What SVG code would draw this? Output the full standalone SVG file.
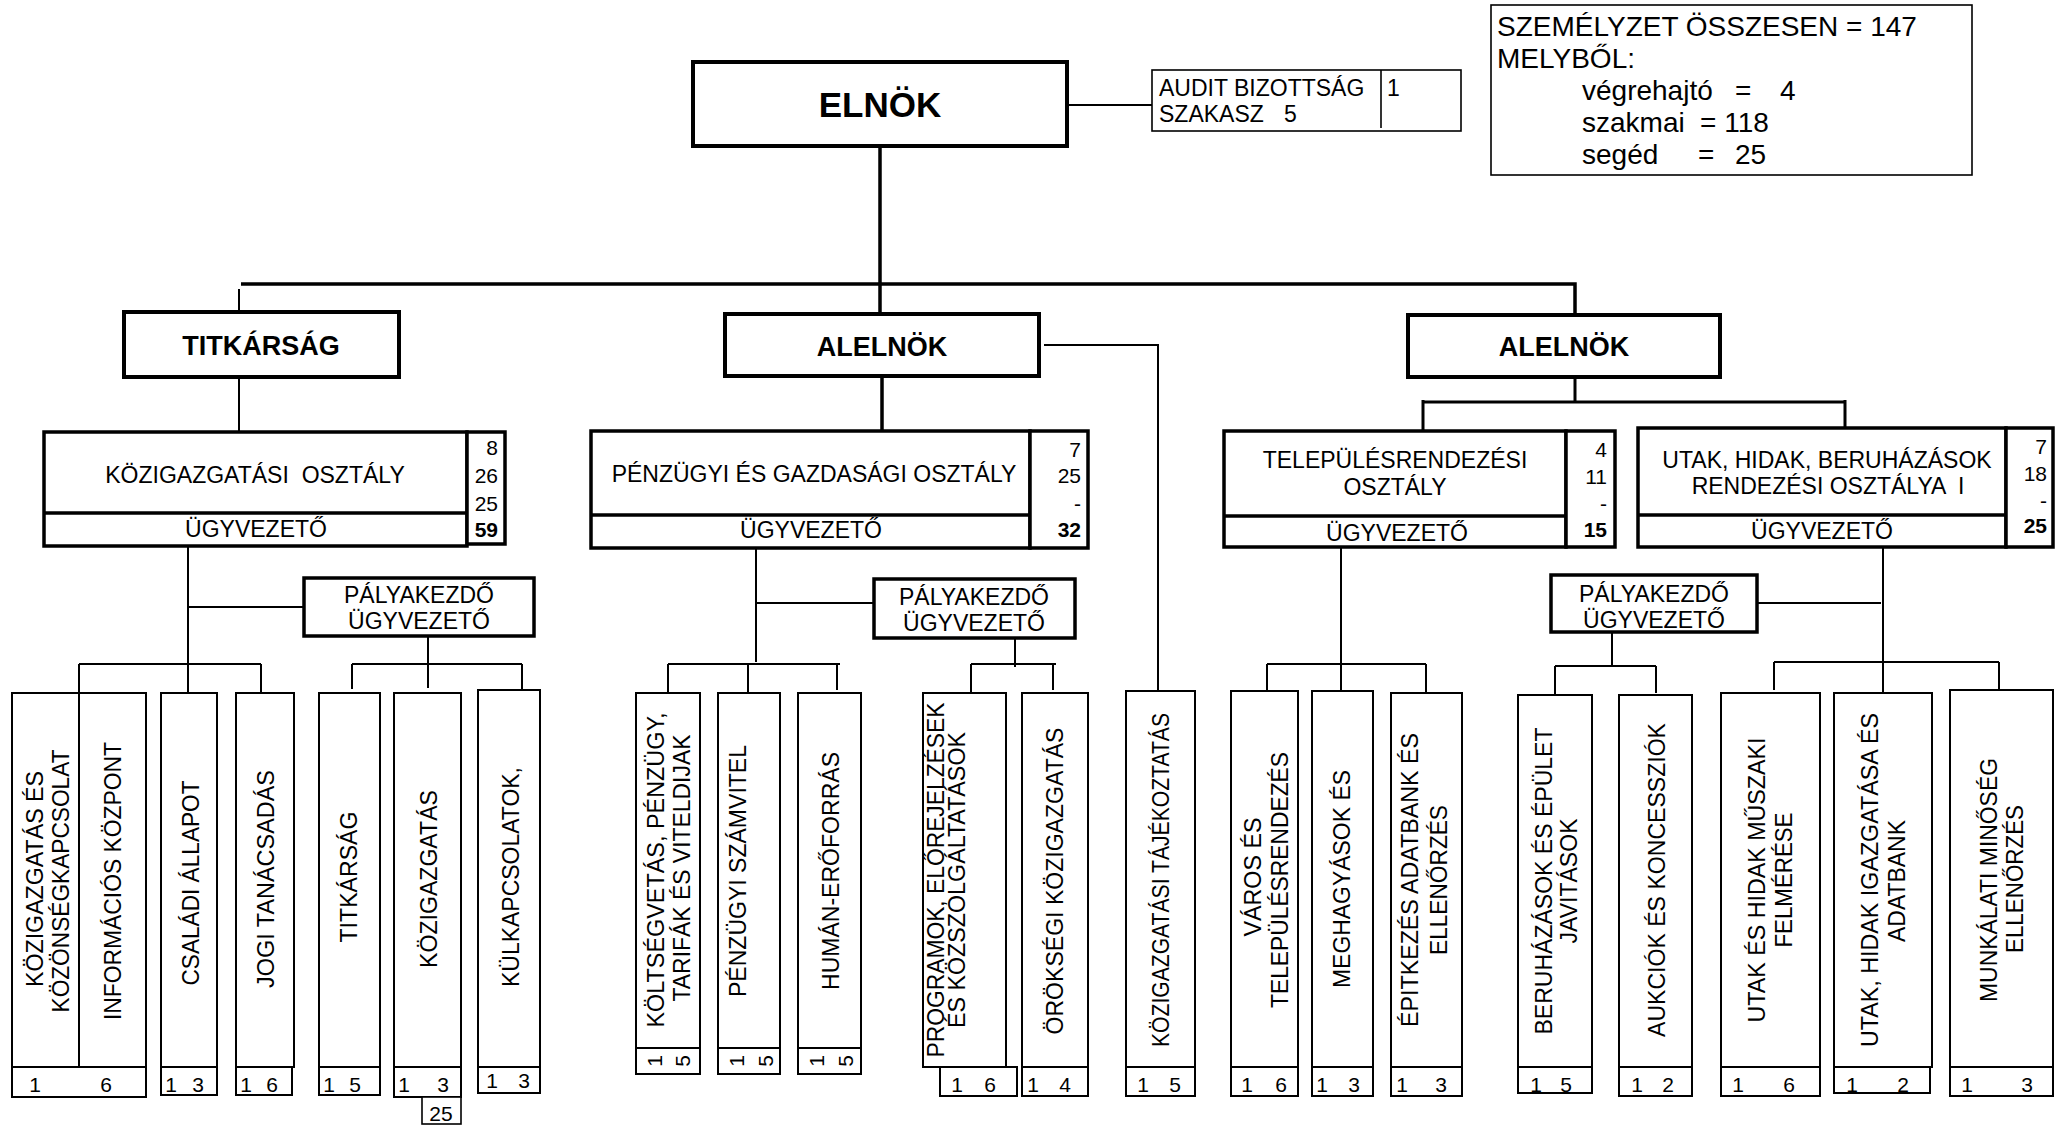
<svg xmlns="http://www.w3.org/2000/svg" width="2065" height="1125" viewBox="0 0 2065 1125">
<style>
text{font-family:"Liberation Sans",Arial,sans-serif;fill:#000}
.b{font-weight:bold}
.f23{font-size:23px}
.f21{font-size:21px}
.f28{font-size:28px}
.m{text-anchor:middle}
.e{text-anchor:end}
.box4{fill:#fff;stroke:#000;stroke-width:4}
.box3{fill:#fff;stroke:#000;stroke-width:3.5}
.box2{fill:#fff;stroke:#000;stroke-width:2}
.box15{fill:#fff;stroke:#000;stroke-width:1.6}
.c4{stroke:#000;stroke-width:3.5;fill:none}
.c3{stroke:#000;stroke-width:3;fill:none}
.c2{stroke:#000;stroke-width:2;fill:none}
.l2{stroke:#000;stroke-width:2}
.l3{stroke:#000;stroke-width:3.5}
</style>
<rect width="2065" height="1125" fill="#fff"/>

<g id="connectors">
<path class="c4" d="M241 284H1575V315M880 146V314M882 376V431"/>
<path class="c2" d="M239 289V312M239 377V432M1067 105H1152M1044 345H1158V691"/>
<path class="c3" d="M1575 377V402M1423 402H1845M1423 400V431M1845 400V428"/>
<path class="c2" d="M188 546V694M188 607H304M428 636V688M79 664H261M79 664V693M261 664V693M352 664H522M352 664V689M522 664V690"/>
<path class="c2" d="M756 549V662M756 603H874M1015 638V667M668 664H840M668 664V696M748 664V693M837 664V690M971 664H1056M971 664V692M1053 664V690"/>
<path class="c2" d="M1341 547V692M1267 664H1426M1267 664V692M1426 664V694"/>
<path class="c2" d="M1883 547V693M1757 603H1881M1612 632V666M1555 666H1656M1555 666V695M1656 666V693M1774 662H1999M1774 662V690M1999 662V690"/>
</g>

<g id="elnok">
<rect class="box4" x="693" y="62" width="374" height="84"/>
<text class="b m" x="880" y="117" font-size="35">ELNÖK</text>
</g>

<g id="audit">
<rect class="box15" x="1152" y="70" width="309" height="61"/>
<line stroke="#000" stroke-width="1.6" x1="1381" y1="70" x2="1381" y2="128"/>
<text class="f23" x="1159" y="96">AUDIT BIZOTTSÁG</text>
<text class="f23" x="1159" y="122">SZAKASZ<tspan x="1284">5</tspan></text>
<text class="f23" x="1387" y="96">1</text>
</g>

<g id="osszesen">
<rect class="box15" x="1491" y="5" width="481" height="170"/>
<text class="f28" x="1497" y="36">SZEMÉLYZET ÖSSZESEN = 147</text>
<text class="f28" x="1497" y="68">MELYBŐL:</text>
<text class="f28" x="1582" y="100">végrehajtó<tspan x="1735">=</tspan><tspan x="1780">4</tspan></text>
<text class="f28" x="1582" y="132">szakmai<tspan x="1700">= 118</tspan></text>
<text class="f28" x="1582" y="164">segéd<tspan x="1698">=</tspan><tspan x="1735">25</tspan></text>
</g>

<g id="titkarsag">
<rect class="box4" x="124" y="312" width="275" height="65"/>
<text class="b m" x="261" y="355" font-size="27">TITKÁRSÁG</text>
</g>

<g id="alelnok1">
<rect class="box4" x="725" y="314" width="314" height="62"/>
<text class="b m" x="882" y="356" font-size="27">ALELNÖK</text>
</g>

<g id="alelnok2">
<rect class="box4" x="1408" y="315" width="312" height="62"/>
<text class="b m" x="1564" y="356" font-size="27">ALELNÖK</text>
</g>

<g id="kozig-osztaly">
<rect class="box3" x="44" y="432" width="423" height="114"/>
<line class="l3" x1="44" y1="513" x2="467" y2="513"/>
<rect class="box3" x="467" y="432" width="38" height="112"/>
<text class="f23 m" x="255" y="483" xml:space="preserve">KÖZIGAZGATÁSI  OSZTÁLY</text>
<text class="f23 m" x="256" y="537">ÜGYVEZETŐ</text>
<text class="f21 e" x="498" y="455">8</text>
<text class="f21 e" x="498" y="483">26</text>
<text class="f21 e" x="498" y="511">25</text>
<text class="f21 e b" x="498" y="537">59</text>
</g>

<g id="penzugyi-osztaly">
<rect class="box3" x="591" y="431" width="439" height="117"/>
<line class="l3" x1="591" y1="515" x2="1030" y2="515"/>
<rect class="box3" x="1030" y="431" width="58" height="117"/>
<text class="f23 m" x="814" y="482">PÉNZÜGYI ÉS GAZDASÁGI OSZTÁLY</text>
<text class="f23 m" x="811" y="538">ÜGYVEZETŐ</text>
<text class="f21 e" x="1081" y="457">7</text>
<text class="f21 e" x="1081" y="483">25</text>
<text class="f21 e" x="1081" y="511">-</text>
<text class="f21 e b" x="1081" y="537">32</text>
</g>

<g id="telepules-osztaly">
<rect class="box3" x="1224" y="431" width="342" height="116"/>
<line class="l3" x1="1224" y1="516" x2="1566" y2="516"/>
<rect class="box3" x="1566" y="431" width="49" height="116"/>
<text class="f23 m" x="1395" y="468">TELEPÜLÉSRENDEZÉSI</text>
<text class="f23 m" x="1395" y="495">OSZTÁLY</text>
<text class="f23 m" x="1397" y="541">ÜGYVEZETŐ</text>
<text class="f21 e" x="1607" y="457">4</text>
<text class="f21 e" x="1607" y="484">11</text>
<text class="f21 e" x="1607" y="511">-</text>
<text class="f21 e b" x="1607" y="537">15</text>
</g>

<g id="utak-osztaly">
<rect class="box3" x="1638" y="428" width="368" height="119"/>
<line class="l3" x1="1638" y1="515" x2="2006" y2="515"/>
<rect class="box3" x="2006" y="428" width="47" height="119"/>
<text class="f23 m" x="1827" y="468">UTAK, HIDAK, BERUHÁZÁSOK</text>
<text class="f23 m" x="1828" y="494" xml:space="preserve">RENDEZÉSI OSZTÁLYA  I</text>
<text class="f23 m" x="1822" y="539">ÜGYVEZETŐ</text>
<text class="f21 e" x="2047" y="454">7</text>
<text class="f21 e" x="2047" y="481">18</text>
<text class="f21 e" x="2047" y="508">-</text>
<text class="f21 e b" x="2047" y="533">25</text>
</g>

<g id="palyakezdo1">
<rect class="box3" x="304" y="578" width="230" height="58"/>
<text class="f23 m" x="419" y="603">PÁLYAKEZDŐ</text>
<text class="f23 m" x="419" y="629">ÜGYVEZETŐ</text>
</g>
<g id="palyakezdo2">
<rect class="box3" x="874" y="579" width="201" height="59"/>
<text class="f23 m" x="974" y="605">PÁLYAKEZDŐ</text>
<text class="f23 m" x="974" y="631">ÜGYVEZETŐ</text>
</g>
<g id="palyakezdo3">
<rect class="box3" x="1551" y="575" width="206" height="57"/>
<text class="f23 m" x="1654" y="602">PÁLYAKEZDŐ</text>
<text class="f23 m" x="1654" y="628">ÜGYVEZETŐ</text>
</g>

<g id="leaf-kozig-kozonseg">
<rect class="box2" x="12" y="693" width="134" height="404"/>
<line class="l2" x1="12" y1="1067" x2="146" y2="1067"/>
<line class="l2" x1="79" y1="693" x2="79" y2="1067"/>
<text class="f23 m" transform="translate(43,879) rotate(-90)" textLength="216" lengthAdjust="spacingAndGlyphs">KÖZIGAZGATÁS ÉS</text>
<text class="f23 m" transform="translate(69,881) rotate(-90)" textLength="263" lengthAdjust="spacingAndGlyphs">KÖZÖNSÉGKAPCSOLAT</text>
<text class="f23 m" transform="translate(121,881) rotate(-90)" textLength="278" lengthAdjust="spacingAndGlyphs">INFORMÁCIÓS KÖZPONT</text>
<text class="f21 m" x="35" y="1092">1</text>
<text class="f21 m" x="106" y="1092">6</text>
</g>

<g id="leaf-csaladi">
<rect class="box2" x="161" y="693" width="56" height="402"/>
<line class="l2" x1="161" y1="1067" x2="217" y2="1067"/>
<text class="f23 m" transform="translate(199,883) rotate(-90)" textLength="205" lengthAdjust="spacingAndGlyphs">CSALÁDI ÁLLAPOT</text>
<text class="f21 m" x="171" y="1092">1</text>
<text class="f21 m" x="198" y="1092">3</text>
</g>

<g id="leaf-jogi">
<rect class="box2" x="236" y="693" width="58" height="374"/>
<rect class="box2" x="236" y="1067" width="56" height="28"/>
<text class="f23 m" transform="translate(274,879) rotate(-90)" textLength="218" lengthAdjust="spacingAndGlyphs">JOGI TANÁCSADÁS</text>
<text class="f21 m" x="246" y="1092">1</text>
<text class="f21 m" x="272" y="1092">6</text>
</g>

<g id="leaf-titkarsag">
<rect class="box2" x="319" y="693" width="61" height="402"/>
<line class="l2" x1="319" y1="1067" x2="380" y2="1067"/>
<text class="f23 m" transform="translate(357,877) rotate(-90)" textLength="131" lengthAdjust="spacingAndGlyphs">TITKÁRSÁG</text>
<text class="f21 m" x="329" y="1092">1</text>
<text class="f21 m" x="355" y="1092">5</text>
</g>

<g id="leaf-kozigazgatas">
<rect class="box2" x="394" y="693" width="67" height="404"/>
<line class="l2" x1="394" y1="1067" x2="461" y2="1067"/>
<rect class="box15" x="422" y="1097" width="39" height="27"/>
<text class="f23 m" transform="translate(437,879) rotate(-90)" textLength="178" lengthAdjust="spacingAndGlyphs">KÖZIGAZGATÁS</text>
<text class="f21 m" x="404" y="1092">1</text>
<text class="f21 m" x="443" y="1092">3</text>
<text class="f21 m" x="441" y="1121">25</text>
</g>

<g id="leaf-kulkapcsolatok">
<rect class="box2" x="478" y="690" width="62" height="403"/>
<line class="l2" x1="478" y1="1067" x2="540" y2="1067"/>
<text class="f23 m" transform="translate(519,877) rotate(-90)" textLength="220" lengthAdjust="spacingAndGlyphs">KÜLKAPCSOLATOK,</text>
<text class="f21 m" x="492" y="1088">1</text>
<text class="f21 m" x="524" y="1088">3</text>
</g>

<g id="leaf-koltsegvetes">
<rect class="box2" x="636" y="693" width="64" height="381"/>
<line class="l2" x1="636" y1="1048" x2="700" y2="1048"/>
<text class="f23 m" transform="translate(664,870) rotate(-90)" textLength="315" lengthAdjust="spacingAndGlyphs">KÖLTSÉGVETÁS, PÉNZÜGY,</text>
<text class="f23 m" transform="translate(690,868) rotate(-90)" textLength="267" lengthAdjust="spacingAndGlyphs">TARIFÁK ÉS VITELDIJAK</text>
<text class="f21 m" transform="translate(662,1061) rotate(-90)">1</text>
<text class="f21 m" transform="translate(690,1061) rotate(-90)">5</text>
</g>

<g id="leaf-szamvitel">
<rect class="box2" x="718" y="693" width="62" height="381"/>
<line class="l2" x1="718" y1="1048" x2="780" y2="1048"/>
<text class="f23 m" transform="translate(746,871) rotate(-90)" textLength="252" lengthAdjust="spacingAndGlyphs">PÉNZÜGYI SZÁMVITEL</text>
<text class="f21 m" transform="translate(744,1061) rotate(-90)">1</text>
<text class="f21 m" transform="translate(773,1061) rotate(-90)">5</text>
</g>

<g id="leaf-human">
<rect class="box2" x="798" y="693" width="63" height="381"/>
<line class="l2" x1="798" y1="1048" x2="861" y2="1048"/>
<text class="f23 m" transform="translate(839,871) rotate(-90)" textLength="238" lengthAdjust="spacingAndGlyphs">HUMÁN-ERŐFORRÁS</text>
<text class="f21 m" transform="translate(824,1061) rotate(-90)">1</text>
<text class="f21 m" transform="translate(853,1061) rotate(-90)">5</text>
</g>

<g id="leaf-programok">
<rect class="box2" x="923" y="693" width="83" height="374"/>
<rect class="box2" x="940" y="1067" width="77" height="29"/>
<text class="f23 m" transform="translate(944,880) rotate(-90)" textLength="355" lengthAdjust="spacingAndGlyphs">PROGRAMOK, ELŐREJELZÉSEK</text>
<text class="f23 m" transform="translate(965,880) rotate(-90)" textLength="296" lengthAdjust="spacingAndGlyphs">ÉS KÖZSZOLGÁLTATÁSOK</text>
<text class="f21 m" x="957" y="1092">1</text>
<text class="f21 m" x="990" y="1092">6</text>
</g>

<g id="leaf-oroksegi">
<rect class="box2" x="1022" y="693" width="66" height="403"/>
<line class="l2" x1="1022" y1="1067" x2="1088" y2="1067"/>
<text class="f23 m" transform="translate(1063,881) rotate(-90)" textLength="307" lengthAdjust="spacingAndGlyphs">ÖRÖKSÉGI KÖZIGAZGATÁS</text>
<text class="f21 m" x="1033" y="1092">1</text>
<text class="f21 m" x="1065" y="1092">4</text>
</g>

<g id="leaf-tajekoztatas">
<rect class="box2" x="1126" y="691" width="69" height="405"/>
<line class="l2" x1="1126" y1="1067" x2="1195" y2="1067"/>
<text class="f23 m" transform="translate(1169,880) rotate(-90)" textLength="334" lengthAdjust="spacingAndGlyphs">KÖZIGAZGATÁSI TÁJÉKOZTATÁS</text>
<text class="f21 m" x="1143" y="1092">1</text>
<text class="f21 m" x="1175" y="1092">5</text>
</g>

<g id="leaf-varos">
<rect class="box2" x="1231" y="691" width="67" height="405"/>
<line class="l2" x1="1231" y1="1067" x2="1298" y2="1067"/>
<text class="f23 m" transform="translate(1261,877) rotate(-90)" textLength="119" lengthAdjust="spacingAndGlyphs">VÁROS ÉS</text>
<text class="f23 m" transform="translate(1288,880) rotate(-90)" textLength="256" lengthAdjust="spacingAndGlyphs">TELEPÜLÉSRENDEZÉS</text>
<text class="f21 m" x="1247" y="1092">1</text>
<text class="f21 m" x="1281" y="1092">6</text>
</g>

<g id="leaf-meghagyasok">
<rect class="box2" x="1312" y="691" width="61" height="405"/>
<line class="l2" x1="1312" y1="1067" x2="1373" y2="1067"/>
<text class="f23 m" transform="translate(1350,879) rotate(-90)" textLength="218" lengthAdjust="spacingAndGlyphs">MEGHAGYÁSOK ÉS</text>
<text class="f21 m" x="1322" y="1092">1</text>
<text class="f21 m" x="1354" y="1092">3</text>
</g>

<g id="leaf-epitkezes">
<rect class="box2" x="1391" y="693" width="71" height="403"/>
<line class="l2" x1="1391" y1="1067" x2="1462" y2="1067"/>
<text class="f23 m" transform="translate(1418,880) rotate(-90)" textLength="294" lengthAdjust="spacingAndGlyphs">ÉPITKEZÉS ADATBANK ÉS</text>
<text class="f23 m" transform="translate(1447,880) rotate(-90)" textLength="150" lengthAdjust="spacingAndGlyphs">ELLENŐRZÉS</text>
<text class="f21 m" x="1402" y="1092">1</text>
<text class="f21 m" x="1441" y="1092">3</text>
</g>

<g id="leaf-beruhazasok">
<rect class="box2" x="1518" y="695" width="74" height="398"/>
<line class="l2" x1="1518" y1="1067" x2="1592" y2="1067"/>
<text class="f23 m" transform="translate(1552,881) rotate(-90)" textLength="307" lengthAdjust="spacingAndGlyphs">BERUHÁZÁSOK ÉS ÉPÜLET</text>
<text class="f23 m" transform="translate(1577,881) rotate(-90)" textLength="125" lengthAdjust="spacingAndGlyphs">JAVITÁSOK</text>
<text class="f21 m" x="1536" y="1092">1</text>
<text class="f21 m" x="1566" y="1092">5</text>
</g>

<g id="leaf-aukciok">
<rect class="box2" x="1619" y="695" width="73" height="401"/>
<line class="l2" x1="1619" y1="1067" x2="1692" y2="1067"/>
<text class="f23 m" transform="translate(1665,880) rotate(-90)" textLength="314" lengthAdjust="spacingAndGlyphs">AUKCIÓK ÉS KONCESSZIÓK</text>
<text class="f21 m" x="1637" y="1092">1</text>
<text class="f21 m" x="1668" y="1092">2</text>
</g>

<g id="leaf-utak-muszaki">
<rect class="box2" x="1721" y="693" width="99" height="403"/>
<line class="l2" x1="1721" y1="1067" x2="1820" y2="1067"/>
<text class="f23 m" transform="translate(1765,880) rotate(-90)" textLength="285" lengthAdjust="spacingAndGlyphs">UTAK ÉS HIDAK MŰSZAKI</text>
<text class="f23 m" transform="translate(1792,880) rotate(-90)" textLength="135" lengthAdjust="spacingAndGlyphs">FELMÉRÉSE</text>
<text class="f21 m" x="1738" y="1092">1</text>
<text class="f21 m" x="1789" y="1092">6</text>
</g>

<g id="leaf-utak-igazgatas">
<rect class="box2" x="1834" y="693" width="98" height="374"/>
<rect class="box2" x="1834" y="1067" width="96" height="26"/>
<text class="f23 m" transform="translate(1878,880) rotate(-90)" textLength="334" lengthAdjust="spacingAndGlyphs">UTAK, HIDAK IGAZGATÁSA ÉS</text>
<text class="f23 m" transform="translate(1905,881) rotate(-90)" textLength="122" lengthAdjust="spacingAndGlyphs">ADATBANK</text>
<text class="f21 m" x="1852" y="1092">1</text>
<text class="f21 m" x="1903" y="1092">2</text>
</g>

<g id="leaf-munkalati">
<rect class="box2" x="1950" y="690" width="103" height="406"/>
<line class="l2" x1="1950" y1="1067" x2="2053" y2="1067"/>
<text class="f23 m" transform="translate(1997,880) rotate(-90)" textLength="244" lengthAdjust="spacingAndGlyphs">MUNKÁLATI MINŐSÉG</text>
<text class="f23 m" transform="translate(2023,879) rotate(-90)" textLength="148" lengthAdjust="spacingAndGlyphs">ELLENŐRZÉS</text>
<text class="f21 m" x="1967" y="1092">1</text>
<text class="f21 m" x="2027" y="1092">3</text>
</g>
</svg>
